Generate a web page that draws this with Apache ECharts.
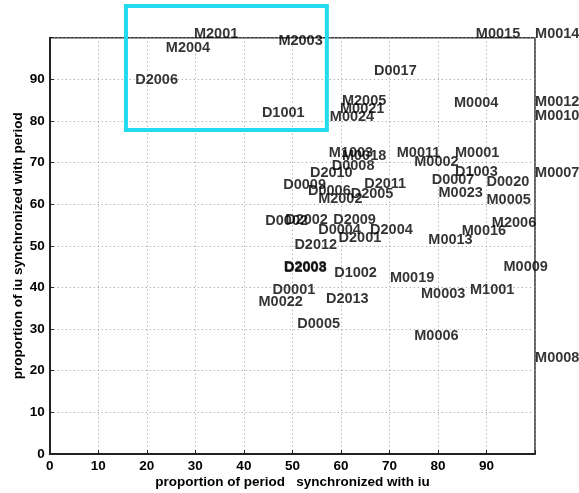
<!DOCTYPE html>
<html><head><meta charset="utf-8">
<script src="https://cdn.jsdelivr.net/npm/echarts@6/dist/echarts.min.js"></script>
<style>html,body{margin:0;padding:0;background:#fff}#c{width:579px;height:493px}</style>
</head><body><div id="c"></div>
<script>
const labels = ['M2001','M2004','M2003','D2006','D1001','M0015','M0014','D0017','M2005','M0021','M0024','M0004','M0012','M0010',
  'M1003','M0018','D0008','D2010','D0009','D0006','D2005','M2002','D2011','M0011','M0002','M0001','D1003','D0007','D0020','M0023','M0005','M0007',
  'M2006','M0016','M0013','D0002','D2002','D2009','D0004','D2004','D2001','D2012','D2008','D2003','D1002','M0019','M0003','M1001','M0009',
  'M0006','M0008','D0001','M0022','D2013','D0005'];
const xValues = [29.7,23.9,47.1,17.6,43.7,87.8,100,66.8,60.2,59.8,57.7,83.3,100,100,
  57.5,60.2,58.1,53.6,48.1,53.2,62.0,55.3,64.8,71.5,75.1,83.5,83.5,78.7,90.0,80.1,90.0,100,
  91.1,84.9,78.0,44.4,48.5,58.4,55.3,66.0,59.5,50.4,48.3,48.2,58.6,70.1,76.5,86.6,93.5,
  75.1,100,45.9,43.0,56.9,51.0];
const yValues = [100,96.5,98.2,88.9,81.0,100,100,91.0,83.8,81.9,80.1,83.4,83.6,80.2,
  71.4,70.6,68.2,66.5,63.6,62.2,61.4,60.2,63.8,71.4,69.3,71.3,66.8,64.8,64.4,61.8,60.0,66.6,
  54.5,52.6,50.4,55.0,55.2,55.2,52.8,52.8,50.9,49.2,43.8,44.0,42.6,41.3,37.4,38.4,44.0,
  27.4,22.2,38.4,35.6,36.3,30.3];
const axisMin = 0, axisMax = 100, axisStep = 10;
const highlightX = [15.7, 57.1];
const highlightY = [77.8, 107.6];

const font = "'Liberation Sans', Arial, Helvetica, sans-serif";
const chart = echarts.init(document.getElementById('c'));
const data = labels.map((n, i) => ({ value: [xValues[i], yValues[i]], name: n }));
const axisCommon = {
  min: axisMin, max: axisMax, interval: axisStep,
  nameMoveOverlap: false,
  axisLine: { show: true, lineStyle: { color: '#222', width: 2 } },
  axisTick: { show: true, inside: true, length: 4, lineStyle: { color: '#222' } },
  splitLine: { show: true, lineStyle: { color: '#999', type: [1, 3], width: 1 } },
  axisLabel: { color: '#000', fontSize: 13.5, fontWeight: 'bold', fontFamily: font,
    formatter: v => (v >= axisMax ? '' : String(v)) },
  nameLocation: 'middle',
  nameTextStyle: { color: '#000', fontSize: 13.5, fontWeight: 'bold', fontFamily: font }
};
chart.setOption({
  animation: false,
  backgroundColor: '#fff',
  grid: { left: 49.8, right: 44, top: 37.7, bottom: 39, containLabel: false, outerBoundsMode: 'none',
    show: true, borderColor: '#333', borderWidth: 1.5, backgroundColor: 'transparent' },
  xAxis: Object.assign({}, axisCommon, { type: 'value', name: 'proportion of period   synchronized with iu', nameGap: 21,
    axisLabel: Object.assign({}, axisCommon.axisLabel, { margin: 5 }) }),
  yAxis: Object.assign({}, axisCommon, { type: 'value', name: 'proportion of iu synchronized with period', nameGap: 25,
    axisLabel: Object.assign({}, axisCommon.axisLabel, { margin: 5 }) }),
  series: [{
    type: 'scatter', data: data, clip: false, symbolSize: 0.1,
    itemStyle: { color: 'rgba(0,0,0,0)' },
    label: { show: true, position: 'right', distance: 0, offset: [0, -4], formatter: p => p.name,
      color: '#000', fontSize: 14.5, fontWeight: 'bold', fontFamily: font }
  }]
});
const p1 = chart.convertToPixel({ gridIndex: 0 }, [highlightX[0], highlightY[1]]);
const p2 = chart.convertToPixel({ gridIndex: 0 }, [highlightX[1], highlightY[0]]);
chart.setOption({
  graphic: [{ type: 'rect', shape: { x: p1[0], y: p1[1], width: p2[0] - p1[0], height: p2[1] - p1[1] },
    style: { fill: 'none', stroke: '#22dbee', lineWidth: 4 }, z: 100 }]
});
</script></body></html>
